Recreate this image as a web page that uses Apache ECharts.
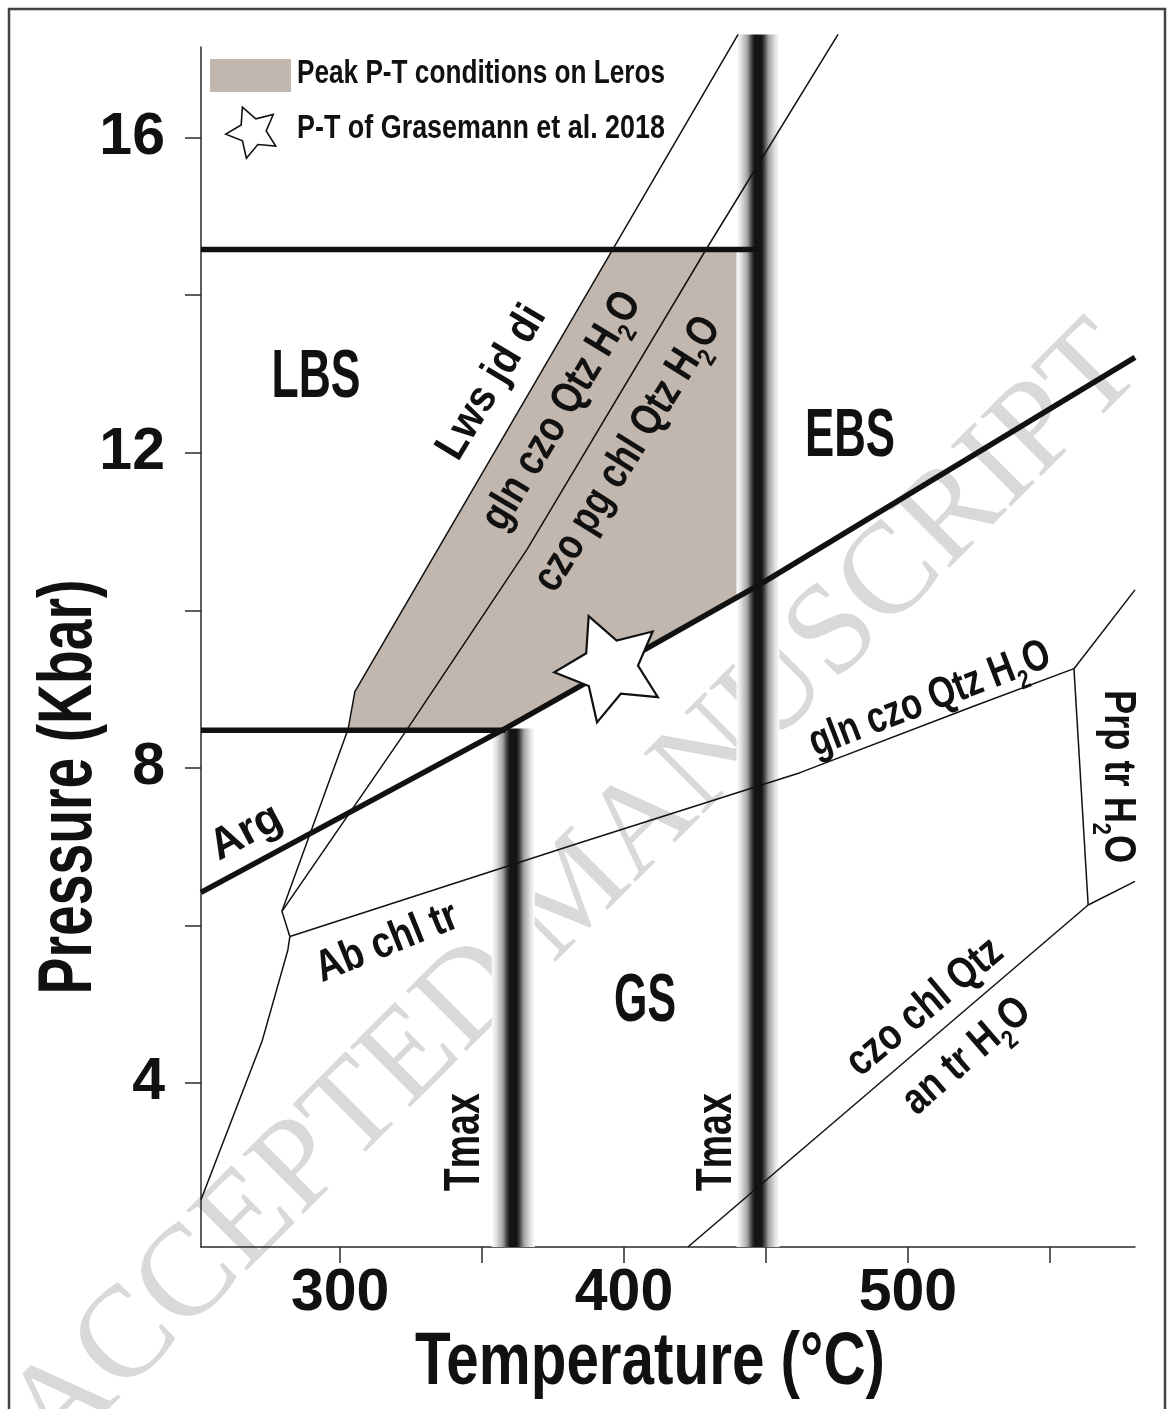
<!DOCTYPE html>
<html><head><meta charset="utf-8">
<script src="https://cdn.jsdelivr.net/npm/echarts@6/dist/echarts.min.js"></script>
<style>html,body{margin:0;padding:0;background:#fff}#c{width:1174px;height:1409px}</style>
</head><body><div id="c"></div>
<script>
// ================= DATA =================
const xTicks = [300, 350, 400, 450, 500, 550];
const xTickLabels = [300, 400, 500];
const yTicks = [4, 6, 8, 10, 12, 14, 16];
const yTickLabels = [4, 8, 12, 16];

// reaction lines: temperature (°C) / pressure (kbar)
const upperBarT = [251, 447.2];            const upperBarP = [14.58, 14.58];
const lowerBarT = [251, 358.1];            const lowerBarP = [8.48, 8.48];
const argT = [251, 358.1, 447.9, 580];     const argP = [6.42, 8.50, 10.33, 13.21];
const lwsT = [440.2, 305.2, 302.8, 279.5]; const lwsP = [17.31, 8.97, 8.49, 6.18];
const czoPgT = [475.4, 428.9, 365.8, 323.6, 279.5]; const czoPgP = [17.31, 14.58, 10.77, 8.49, 6.18];
const kinkT = [279.5, 282.3];              const kinkP = [6.18, 5.86];
const lowLeftT = [282.3, 281.6, 272.5, 251]; const lowLeftP = [5.86, 5.69, 4.53, 2.52];
const abChlT = [282.3, 384.5, 462.0, 522.9, 558.5]; const abChlP = [5.86, 7.05, 7.94, 8.78, 9.26];
const upRightT = [558.5, 580];             const upRightP = [9.26, 10.26];
const prpT = [558.5, 563.5];               const prpP = [9.26, 6.26];
const lowRightT = [563.5, 580];            const lowRightP = [6.26, 6.56];
const czoChlT = [563.5, 422.5];            const czoChlP = [6.26, 1.92];

// Tmax bands
const tmaxT = [361, 447.2];
const tmaxTopP = [8.5, 17.31];
const tmaxBottomP = [1.92, 1.92];

// peak P-T field (polygon vertices)
const peakT = [396.0, 447.2, 447.2, 358.1, 302.8, 305.2];
const peakP = [14.58, 14.58, 10.32, 8.50, 8.48, 8.97];

// P-T of Grasemann et al. 2018
const starT = [395.1];
const starP = [9.27];

// annotation texts and anchors (T, P)
const labelTexts = ['LBS', 'EBS', 'GS', 'Arg', 'Lws jd di', 'gln czo Qtz H{s|2}O', 'czo pg chl Qtz H{s|2}O',
  'gln czo Qtz H{s|2}O', 'Ab chl tr', 'Prp tr H{s|2}O', 'Tmax', 'Tmax', 'czo chl Qtz', 'an tr H{s|2}O'];
const labelT = [291.5, 479.6, 407.4, 266.9, 353.5, 378.2, 401.4, 507.8, 316.5, 573.7, 344.0, 432.8, 506.0, 520.8];
const labelP = [12.94, 12.20, 5.02, 7.18, 12.89, 12.53, 11.98, 8.87, 5.78, 7.89, 3.25, 3.25, 4.96, 4.34];

const legendNames = ['Peak P-T conditions on Leros', 'P-T of Grasemann et al. 2018'];
const xName = 'Temperature (°C)';
const yName = 'Pressure (Kbar)';
const watermark = 'ACCEPTED MANUSCRIPT';

// ================= STYLE =================
const labelAngle = [0, 0, 0, 28, 59, 59, 58, 21, 22, -90, 90, 90, 40, 41];
const labelSize  = [68, 68, 68, 44, 44, 44, 44, 44, 44, 44, 50, 50, 44, 44];
const labelWidth = [89, 90, 62, 75, 172, 270, 315, 255, 150, 173, 98, 98, 190, 155];
const SHADE = '#c1b7ae';
const INK = '#111111';
const AXIS = '#2a2a2a';

function hasFont(name) {
  const c = document.createElement('canvas').getContext('2d');
  const t = 'abcdefghijklmnopqrstuvwxyz0123456789ABCDEF';
  let diff = false;
  ['monospace', 'serif'].forEach(f => {
    c.font = 'bold 40px ' + f; const a = c.measureText(t).width;
    c.font = 'bold 40px "' + name + '", ' + f; const b = c.measureText(t).width;
    if (Math.abs(a - b) > 0.5) diff = true;
  });
  return diff;
}
const NARROW = hasFont('Liberation Sans Narrow');
const FONT = NARROW ? '"Liberation Sans Narrow", "Liberation Sans", Arial, sans-serif'
                    : '"Liberation Sans", Arial, sans-serif';
const mctx = document.createElement('canvas').getContext('2d');
function textW(str, size) { mctx.font = 'bold ' + size + 'px ' + FONT; return mctx.measureText(str).width; }
function richW(str, size) {
  const subs = [];
  const main = str.replace(/\{s\|([^}]*)\}/g, (m, g) => { subs.push(g); return ''; });
  return textW(main, size) + (subs.length ? textW(subs.join(''), size * 0.6) : 0);
}
function fit(str, size, target) { return target / richW(str, size); }
function richFor(size) {
  return { s: { fontSize: size * 0.6, fontWeight: 'bold', fontFamily: FONT, fill: INK,
                verticalAlign: 'bottom', lineHeight: size * 1.35 } };
}
function starPoints(cx, cy, R, ratio, tiltDeg) {
  const pts = [];
  for (let k = 0; k < 10; k++) {
    const a = (-90 - tiltDeg + k * 36) * Math.PI / 180;
    const r = k % 2 === 0 ? R : R * ratio;
    pts.push([cx + r * Math.cos(a), cy + r * Math.sin(a)]);
  }
  return pts;
}

const tickSize = NARROW ? 65 : Math.round(65 * Math.sqrt(90 / textW('300', 65)));

function lineSeries(name, T, P, width, z) {
  return {
    name, type: 'line', data: T.map((t, i) => [t, P[i]]), showSymbol: false, symbol: 'none',
    clip: false, silent: true, z,
    lineStyle: { color: INK, width, cap: 'butt', join: 'round' }
  };
}

const bandStops = [
  { offset: 0, color: '#ffffff' }, { offset: 0.1, color: '#e2e2e2' }, { offset: 0.25, color: '#a5a5a5' },
  { offset: 0.36, color: '#3c3c3c' }, { offset: 0.42, color: '#141414' }, { offset: 0.58, color: '#141414' },
  { offset: 0.64, color: '#3c3c3c' }, { offset: 0.75, color: '#a5a5a5' }, { offset: 0.9, color: '#e2e2e2' },
  { offset: 1, color: '#ffffff' }
];

const chart = echarts.init(document.getElementById('c'), null, { renderer: 'canvas', width: 1174, height: 1409 });

const option = {
  backgroundColor: '#ffffff',
  animation: false,
  grid: { left: 201, top: 47, right: 39, bottom: 162, outerBoundsMode: 'none', containLabel: false },
  xAxis: {
    type: 'value', min: 251, max: 580,
    axisLine: { show: true, onZero: false, lineStyle: { color: AXIS, width: 1.5 } },
    axisTick: { show: true, customValues: xTicks, length: 16, inside: false, lineStyle: { color: AXIS, width: 1.5 } },
    axisLabel: { show: true, customValues: xTickLabels, margin: 17, fontSize: tickSize, fontWeight: 'bold',
                 fontFamily: FONT, color: INK, formatter: v => String(v) },
    splitLine: { show: false }
  },
  yAxis: {
    type: 'value', min: 1.92, max: 17.15,
    axisLine: { show: true, onZero: false, lineStyle: { color: AXIS, width: 1.5 } },
    axisTick: { show: true, customValues: yTicks, length: 16, inside: false, lineStyle: { color: AXIS, width: 1.5 } },
    axisLabel: { show: true, customValues: yTickLabels, margin: 36, fontSize: tickSize, fontWeight: 'bold',
                 fontFamily: FONT, color: INK, formatter: v => String(v) },
    splitLine: { show: false }
  },
  graphic: [
    { type: 'rect', silent: true, z: 0, shape: { x: 9, y: 9, width: 1156, height: 1430 },
      style: { fill: 'none', stroke: '#444', lineWidth: 2.5 } },
    { type: 'text', silent: true, z: 0, x: 576, y: 893, rotation: 45 * Math.PI / 180,
      style: { text: watermark, font: '130px "Liberation Serif", "Times New Roman", serif', fill: '#d9d9d9',
               align: 'center', verticalAlign: 'middle', textAlign: 'center', textVerticalAlign: 'middle' } },
    { type: 'rect', silent: true, z: 10, shape: { x: 210, y: 59, width: 81, height: 33 }, style: { fill: SHADE } },
    { type: 'polygon', silent: true, z: 10, shape: { points: starPoints(252.7, 132, 27, 0.5, 22.5) },
      style: { fill: '#fff', stroke: INK, lineWidth: 1.6, lineJoin: 'miter' } },
    { type: 'text', silent: true, z: 10, x: 297, y: 74, scaleX: fit(legendNames[0], 33, 368),
      style: { text: legendNames[0], fontSize: 33, fontWeight: 'bold', fontFamily: FONT, fill: INK,
               align: 'left', verticalAlign: 'middle', textAlign: 'left', textVerticalAlign: 'middle' } },
    { type: 'text', silent: true, z: 10, x: 297, y: 129, scaleX: fit(legendNames[1], 33, 368),
      style: { text: legendNames[1], fontSize: 33, fontWeight: 'bold', fontFamily: FONT, fill: INK,
               align: 'left', verticalAlign: 'middle', textAlign: 'left', textVerticalAlign: 'middle' } },
    { type: 'text', silent: true, z: 10, x: 650, y: 1364, scaleX: fit(xName, 74, 470),
      style: { text: xName, fontSize: 74, fontWeight: 'bold', fontFamily: FONT, fill: INK,
               align: 'center', verticalAlign: 'middle', textAlign: 'center', textVerticalAlign: 'middle' } },
    { type: 'text', silent: true, z: 10, x: 70, y: 787, rotation: Math.PI / 2, scaleX: fit(yName, 76, 415),
      style: { text: yName, fontSize: 76, fontWeight: 'bold', fontFamily: FONT, fill: INK,
               align: 'center', verticalAlign: 'middle', textAlign: 'center', textVerticalAlign: 'middle' } }
  ],
  series: [
    {
      name: legendNames[0], type: 'custom', coordinateSystem: 'cartesian2d', silent: true, z: 1, clip: false,
      data: [[peakT[0], peakP[0]]],
      renderItem: (params, api) => ({
        type: 'polygon',
        shape: { points: peakT.map((t, i) => api.coord([t, peakP[i]])) },
        style: { fill: SHADE, stroke: 'none' }
      })
    },
    {
      name: 'Tmax', type: 'custom', coordinateSystem: 'cartesian2d', silent: true, z: 2, clip: false,
      data: tmaxT.map((t, i) => [t, tmaxTopP[i], tmaxBottomP[i]]),
      renderItem: (params, api) => {
        const a = api.coord([api.value(0), api.value(1)]);
        const b = api.coord([api.value(0), api.value(2)]);
        const w = 43;
        return {
          type: 'rect', shape: { x: a[0] - w / 2, y: a[1], width: w, height: b[1] - a[1] },
          style: { fill: { type: 'linear', x: 0, y: 0, x2: 1, y2: 0, colorStops: bandStops } }
        };
      }
    },
    lineSeries('Lws jd di = gln czo Qtz H2O', lwsT, lwsP, 1.5, 3),
    lineSeries('gln czo Qtz H2O = czo pg chl Qtz H2O', czoPgT, czoPgP, 1.5, 3),
    lineSeries('kink', kinkT, kinkP, 1.5, 3),
    lineSeries('low left', lowLeftT, lowLeftP, 1.5, 3),
    lineSeries('Ab chl tr = gln czo Qtz H2O', abChlT, abChlP, 1.5, 3),
    lineSeries('upper right', upRightT, upRightP, 1.5, 3),
    lineSeries('Prp tr H2O', prpT, prpP, 1.5, 3),
    lineSeries('lower right', lowRightT, lowRightP, 1.5, 3),
    lineSeries('czo chl Qtz = an tr H2O', czoChlT, czoChlP, 1.5, 3),
    lineSeries('upper bar', upperBarT, upperBarP, 5.5, 4),
    lineSeries('lower bar', lowerBarT, lowerBarP, 5.5, 4),
    lineSeries('Arg', argT, argP, 5.5, 4),
    {
      name: legendNames[1], type: 'custom', coordinateSystem: 'cartesian2d', silent: true, z: 5, clip: false,
      data: starT.map((t, i) => [t, starP[i]]),
      renderItem: (params, api) => {
        const c = api.coord([api.value(0), api.value(1)]);
        return { type: 'polygon', shape: { points: starPoints(c[0], c[1], 56, 0.5, 22.5) },
                 style: { fill: '#ffffff', stroke: INK, lineWidth: 2.2, lineJoin: 'miter' } };
      }
    },
    {
      name: 'labels', type: 'custom', coordinateSystem: 'cartesian2d', silent: true, z: 6, clip: false,
      data: labelT.map((t, i) => [t, labelP[i], i]),
      renderItem: (params, api) => {
        const i = api.value(2);
        const c = api.coord([api.value(0), api.value(1)]);
        const txt = labelTexts[i], size = labelSize[i];
        return {
          type: 'text', x: c[0], y: c[1], rotation: labelAngle[i] * Math.PI / 180,
          scaleX: fit(txt, size, labelWidth[i]), scaleY: 1,
          style: { text: txt, fontSize: size, fontWeight: 'bold', fontFamily: FONT, fill: INK,
                   align: 'center', verticalAlign: 'middle', textAlign: 'center', textVerticalAlign: 'middle',
                   rich: richFor(size) }
        };
      }
    }
  ]
};
chart.setOption(option);
</script>
</body></html>
